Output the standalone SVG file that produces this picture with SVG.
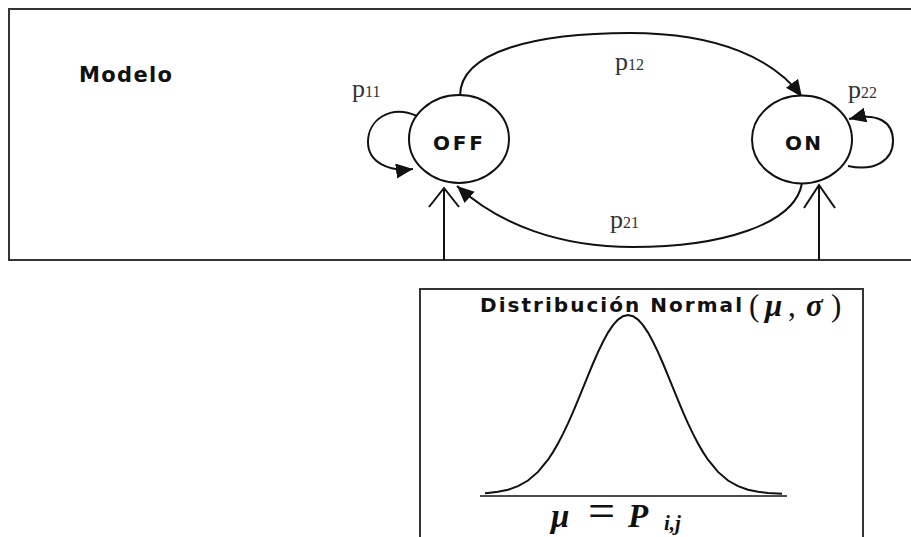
<svg xmlns="http://www.w3.org/2000/svg" width="911" height="537" viewBox="0 0 911 537">
<style>
.frame{fill:none;stroke:#333;stroke-width:2}
.node{fill:#fff;stroke:#111;stroke-width:2}
.edge{fill:none;stroke:#111;stroke-width:2}
.lbl{font-family:"DejaVu Sans","Liberation Sans",sans-serif;font-weight:bold;fill:#111}
.p{font-family:"Liberation Serif","Times New Roman",serif;fill:#333}
.m{font-family:"Liberation Serif","Times New Roman",serif;font-style:italic;fill:#111}
</style>
<defs>
<marker id="ah" markerUnits="userSpaceOnUse" markerWidth="20" markerHeight="18" refX="17" refY="7.5" orient="auto">
<path d="M0,0 L17,7.5 L0,15 Z" fill="#111"/>
</marker>
</defs>
<rect class="frame" x="9" y="9" width="910" height="251"/>
<text class="lbl" x="79" y="82" font-size="21" textLength="93" lengthAdjust="spacing">Modelo</text>
<g id="connectors">
<path class="edge" d="M460,96 C460,50 540,33 630,33 C720,33 775,60 802,97" marker-end="url(#ah)"/>
<path class="edge" d="M802,183 C795,225 720,247 633,247 C560,247 500,225 457,186" marker-end="url(#ah)"/>
<path class="edge" d="M417,116 C390,104 368,120 368,142 C368,162 388,172 413,169" marker-end="url(#ah)"/>
<path class="edge" d="M848,166 C875,172 893,160 893,141 C893,122 878,112 849,119" marker-end="url(#ah)"/>
<path class="edge" d="M444,260 L444,188 M429,207 L444,188 L459,207"/>
<path class="edge" d="M819,260 L819,185 M804,208 L819,185 L835,208"/>
</g>
<g id="off">
<ellipse class="node" cx="459" cy="139" rx="50" ry="44"/>
<text class="lbl" x="433" y="150" font-size="20" textLength="50" lengthAdjust="spacing">OFF</text>
</g>
<g id="on">
<ellipse class="node" cx="802" cy="139.5" rx="50" ry="44"/>
<text class="lbl" x="785" y="150" font-size="20" textLength="36" lengthAdjust="spacing">ON</text>
</g>
<text class="p" x="352" y="97" font-size="26">p<tspan font-size="16">11</tspan></text>
<text class="p" x="615" y="70" font-size="26">p<tspan font-size="16">12</tspan></text>
<text class="p" x="848" y="98" font-size="26">p<tspan font-size="16">22</tspan></text>
<text class="p" x="610" y="228" font-size="26">p<tspan font-size="16">21</tspan></text>
<g id="distribution">
<path class="frame" d="M420,545 L420,289 L863,289 L863,545"/>
<text class="lbl" x="480" y="312" font-size="20" textLength="262" lengthAdjust="spacing">Distribución Normal</text>
<text class="m" y="316" font-size="31"><tspan x="749" font-style="normal">(</tspan><tspan x="765" font-weight="bold">μ</tspan><tspan x="788" font-style="normal">,</tspan><tspan x="806" font-weight="bold">σ</tspan><tspan x="831" font-style="normal">)</tspan></text>
<line x1="480" y1="496" x2="787" y2="496" stroke="#111" stroke-width="1.5"/>
<polyline class="edge" stroke-width="2.8" points="485,493.2 488,492.9 498,491.7 508,489.7 518,486.1 528,480.5 538,471.9 548,459.7 553,452.1 558,443.5 563,433.9 568,423.4 573,412.1 578,400.2 583,387.9 588,375.6 593,363.5 598,352.1 603,341.7 608,332.6 613,325.1 618,319.6 623,316.2 628,315 633,316.2 638,319.6 643,325.1 648,332.6 653,341.7 658,352.1 663,363.5 668,375.6 673,387.9 678,400.2 683,412.1 688,423.4 693,433.9 698,443.5 703,452.1 708,459.7 718,471.9 728,480.5 738,486.1 748,489.7 758,491.7 768,492.9 778,493.5 782,493.7"/>
<text class="m" y="527" font-size="33" font-weight="bold"><tspan x="551">μ</tspan><tspan x="588" font-size="48" font-style="normal" font-weight="normal">=</tspan><tspan x="628">P</tspan><tspan x="664" y="530" font-size="21">i,j</tspan></text>
</g>
</svg>
